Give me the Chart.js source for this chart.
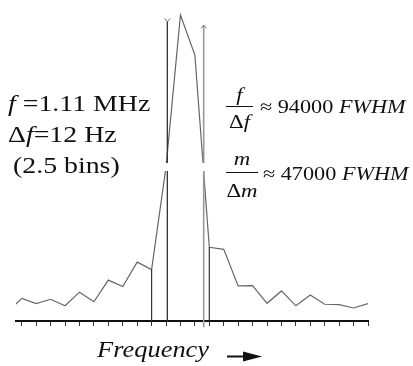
<!DOCTYPE html>
<html>
<head>
<meta charset="utf-8">
<script src="https://cdn.jsdelivr.net/npm/chart.js@4"></script>
<style>
  body { margin: 0; background: #fff; }
  #wrap { position: relative; width: 413px; height: 366px; }
</style>
</head>
<body>
<div id="wrap"><canvas id="c"></canvas></div>
<script>
// frequency bins (tick marks at 0..24) and spectrum amplitude
const bins = [-1, 0, 1, 2, 3, 4, 5, 6, 7, 8, 9, 10, 11, 12, 13, 14, 15, 16, 17, 18, 19, 20, 21, 22, 23, 24];
const amplitude = [2.9, 7.3, 5.6, 7.0, 4.9, 9.3, 6.2, 13.2, 11.1, 19.0, 16.6, 49.7, 98.7, 85.8, 23.8, 23.1, 11.3, 11.4, 5.7, 9.7, 4.9, 8.4, 5.4, 5.3, 4.2, 5.6];
const tickBins = [0, 1, 2, 3, 4, 5, 6, 7, 8, 9, 10, 11, 12, 13, 14, 15, 16, 17, 18, 19, 20, 21, 22, 23, 24];
const dropBins = [9, 13];
// FWHM markers (2.5 bins apart) and the half-maximum level
const fwhmLeft = 10.09, fwhmRight = 12.61;
const markerTop = [96.5, 95.5];
const halfMax = 49.7;

const FONT = '"Liberation Serif", "Times New Roman", Times, serif';

const spectrum = bins.map((b, i) => ({x: b, y: amplitude[i]}));
const valueAt = b => amplitude[bins.indexOf(b)];

const datasets = [];
// white band at half maximum (cuts the lines)
datasets.push({
  data: [{x: 9.75, y: halfMax}, {x: 13.0, y: halfMax}],
  borderColor: '#fff', borderWidth: 8, clip: false
});
// left marker with a small v on top
datasets.push({
  data: [{x: fwhmLeft, y: 0}, {x: fwhmLeft, y: markerTop[0]}],
  borderColor: '#333', borderWidth: 1.3
});
datasets.push({
  data: [{x: fwhmLeft - 0.18, y: markerTop[0] + 1.1}, {x: fwhmLeft, y: markerTop[0]}, {x: fwhmLeft + 0.18, y: markerTop[0] + 1.1}],
  borderColor: '#777', borderWidth: 1
});
// right marker with an arrow head
datasets.push({
  data: [{x: fwhmRight, y: -2}, {x: fwhmRight, y: markerTop[1]}],
  borderColor: '#999', borderWidth: 1.6, clip: false
});
datasets.push({
  data: [{x: fwhmRight - 0.18, y: markerTop[1] - 1.1}, {x: fwhmRight, y: markerTop[1]}, {x: fwhmRight + 0.18, y: markerTop[1] - 1.1}],
  borderColor: '#777', borderWidth: 1
});
// drop lines to the axis
dropBins.forEach(b => {
  datasets.push({
    data: [{x: b, y: valueAt(b)}, {x: b, y: 0}],
    borderColor: '#333', borderWidth: 1.2
  });
});
// the spectrum itself
datasets.push({
  data: spectrum,
  borderColor: '#666', borderWidth: 1.2
});

function runs(ctx, parts, x, y, size, sx, align) {
  ctx.save();
  let w = 0;
  for (const [t, it] of parts) {
    ctx.font = (it ? 'italic ' : '') + size + 'px ' + FONT;
    w += ctx.measureText(t).width;
  }
  ctx.translate(x, y);
  ctx.scale(sx, 1);
  let cx = align === 'center' ? -w / 2 : 0;
  for (const [t, it] of parts) {
    ctx.font = (it ? 'italic ' : '') + size + 'px ' + FONT;
    ctx.fillText(t, cx, 0);
    cx += ctx.measureText(t).width;
  }
  ctx.restore();
}

const notes = {
  id: 'notes',
  afterDraw(chart) {
    const ctx = chart.ctx;
    ctx.save();
    ctx.fillStyle = '#111';
    ctx.strokeStyle = '#111';
    ctx.textBaseline = 'alphabetic';
    ctx.textAlign = 'left';

    runs(ctx, [['f', 1], [' =1.11 MHz', 0]], 8, 110.5, 24, 1.16);
    runs(ctx, [['Δ', 0], ['f', 1], ['=12 Hz', 0]], 8, 141.5, 24, 1.16);
    runs(ctx, [['(2.5 bins)', 0]], 13, 172.5, 24, 1.16);

    // f / Δf
    runs(ctx, [['f', 1]], 239.5, 101, 19, 1.2, 'center');
    runs(ctx, [['Δ', 0], ['f', 1]], 239.5, 128.3, 19, 1.2, 'center');
    ctx.lineWidth = 1;
    ctx.beginPath(); ctx.moveTo(226, 106.5); ctx.lineTo(253, 106.5); ctx.stroke();
    runs(ctx, [['≈ 94000 ', 0], ['FWHM', 1]], 260, 113, 19, 1.17);

    // m / Δm
    runs(ctx, [['m', 1]], 242, 165, 19, 1.2, 'center');
    runs(ctx, [['Δ', 0], ['m', 1]], 242, 196.5, 19, 1.2, 'center');
    ctx.beginPath(); ctx.moveTo(226, 172.5); ctx.lineTo(258, 172.5); ctx.stroke();
    runs(ctx, [['≈ 47000 ', 0], ['FWHM', 1]], 263, 179.5, 19, 1.17);

    // axis title with arrow
    runs(ctx, [['Frequency', 1]], 97, 356.5, 23, 1.15);
    ctx.lineWidth = 2;
    ctx.beginPath(); ctx.moveTo(227, 356.5); ctx.lineTo(246, 356.5); ctx.stroke();
    ctx.beginPath(); ctx.moveTo(243, 351.5); ctx.lineTo(262, 356.5); ctx.lineTo(243, 361.5); ctx.closePath(); ctx.fill();
    ctx.restore();
  }
};

new Chart(document.getElementById('c'), {
  type: 'line',
  data: {datasets: datasets},
  options: {
    responsive: true,
    maintainAspectRatio: false,
    animation: false,
    events: [],
    layout: {padding: {left: 16, right: 45, top: 11, bottom: 40}},
    elements: {point: {radius: 0}, line: {tension: 0}},
    plugins: {legend: {display: false}, tooltip: {enabled: false}},
    scales: {
      x: {
        type: 'linear', min: -0.4, max: 24,
        afterBuildTicks: s => { s.ticks = tickBins.map(v => ({value: v})); },
        grid: {drawOnChartArea: false, drawTicks: true, tickLength: 5, color: '#333', lineWidth: 1},
        border: {color: '#111', width: 2},
        ticks: {display: false}
      },
      y: {display: false, min: 0, max: 100}
    }
  },
  plugins: [notes]
});
</script>
</body>
</html>
